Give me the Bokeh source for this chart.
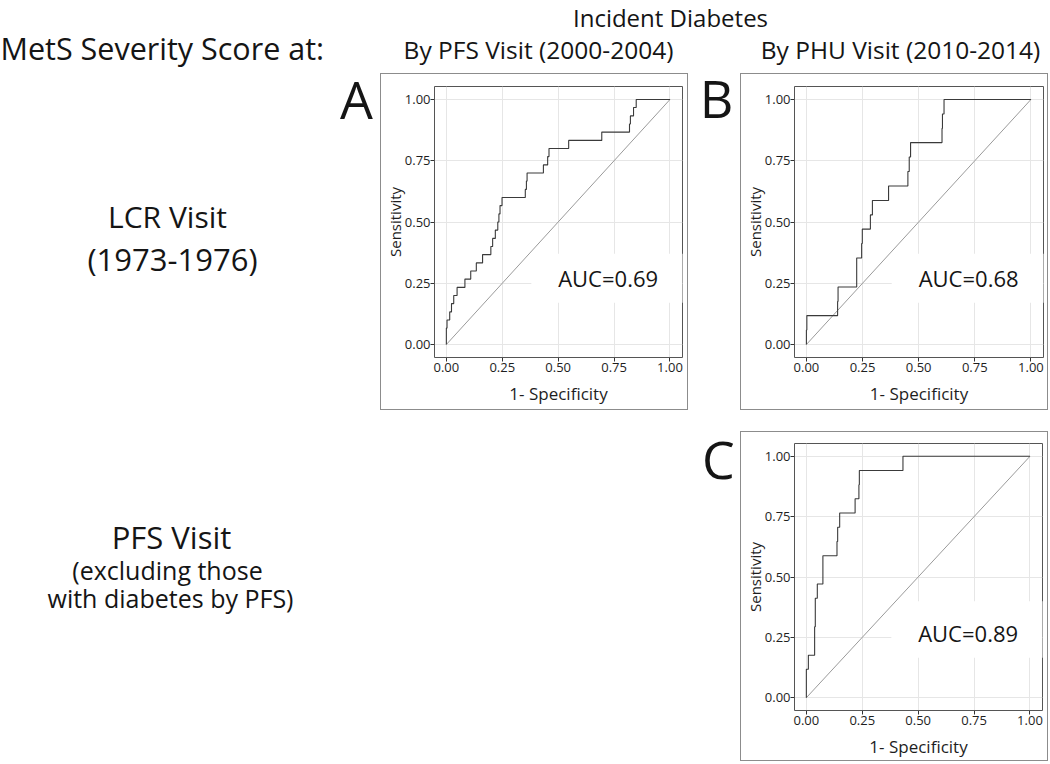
from bokeh.plotting import figure
from bokeh.layouts import row, column
from bokeh.models import Range1d, FixedTicker, Spacer
from bokeh.core.properties import value
from bokeh.embed import file_html
from bokeh.resources import INLINE

FONT = "Open Sans"

# ---------------- data ----------------
tick_values = [0.0, 0.25, 0.5, 0.75, 1.0]
tick_labels = ["0.00", "0.25", "0.50", "0.75", "1.00"]
diag = [0.0, 1.0]

a_fpr = [0.0, 0.0, 0.003, 0.015, 0.023, 0.033, 0.048, 0.083, 0.109, 0.134, 0.162,
         0.199, 0.207, 0.219, 0.230, 0.235, 0.240, 0.249, 0.353, 0.358, 0.361,
         0.434, 0.453, 0.459, 0.547, 0.695, 0.819, 0.823, 0.837, 0.849, 1.0]
a_tpr = [0.0, 0.067, 0.100, 0.133, 0.167, 0.200, 0.233, 0.267, 0.300, 0.333, 0.367,
         0.400, 0.433, 0.467, 0.500, 0.533, 0.567, 0.600, 0.633, 0.667, 0.700,
         0.733, 0.767, 0.800, 0.833, 0.867, 0.900, 0.933, 0.967, 1.0, 1.0]

b_fpr = [0.0, 0.0, 0.002, 0.139, 0.141, 0.224, 0.224, 0.246, 0.249, 0.285, 0.294,
         0.366, 0.452, 0.458, 0.464, 0.604, 0.606, 0.613, 1.0]
b_tpr = [0.0, 0.059, 0.118, 0.176, 0.235, 0.294, 0.353, 0.412, 0.471, 0.529, 0.588,
         0.647, 0.706, 0.765, 0.824, 0.882, 0.941, 1.0, 1.0]

c_fpr = [0.0, 0.0, 0.009, 0.037, 0.037, 0.040, 0.040, 0.049, 0.074, 0.074, 0.137,
         0.140, 0.149, 0.218, 0.235, 0.237, 0.432, 1.0]
c_tpr = [0.0, 0.118, 0.176, 0.235, 0.294, 0.353, 0.412, 0.471, 0.529, 0.588, 0.647,
         0.706, 0.765, 0.824, 0.882, 0.941, 1.0, 1.0]

auc_values = [0.69, 0.68, 0.89]

header_text = "Incident Diabetes"
column_titles = ["By PFS Visit (2000-2004)", "By PHU Visit (2010-2014)"]
row_heading = "MetS Severity Score at:"
row1_label = ["LCR Visit", "(1973-1976)"]
row2_label = ["PFS Visit", "(excluding those", "with diabetes by PFS)"]
panel_letters = ["A", "B", "C"]
x_title = "1- Specificity"
y_title = "Sensitivity"

TXT = "#151515"
BOX = "#8c8c8c"
X0, X1 = -0.053, 1.056
Y0, Y1 = -0.053, 1.053


def blank(w, h):
    p = figure(width=w, height=h, output_backend="svg", toolbar_location=None,
               x_range=Range1d(0, w), y_range=Range1d(h, 0), min_border=0)
    p.axis.visible = False
    p.grid.visible = False
    p.outline_line_color = None
    return p


def bar(w, h):
    return Spacer(width=w, height=h, styles={"background-color": BOX})


def put(p, x, y, txt, size, align="center", color=TXT):
    p.text(x=[x], y=[y], text=[txt], text_font=value(FONT), text_font_size=size,
           text_align=align, text_baseline="middle", text_color=color)


def roc(fpr, tpr, auc, w, h, ml, mr, mt, mb, mask):
    p = figure(width=w, height=h, output_backend="svg", toolbar_location=None,
               x_range=Range1d(X0, X1), y_range=Range1d(Y0, Y1),
               min_border_left=ml, min_border_right=mr,
               min_border_top=mt, min_border_bottom=mb,
               x_axis_label=x_title, y_axis_label=y_title)
    for ax in (p.xaxis[0], p.yaxis[0]):
        ax.ticker = FixedTicker(ticks=tick_values)
        ax.major_label_overrides = dict(zip(tick_values, tick_labels))
        ax.axis_line_color = None
        ax.major_tick_in = 0
        ax.major_tick_out = 4
        ax.major_tick_line_color = "#333333"
        ax.minor_tick_line_color = None
        ax.major_label_text_font = FONT
        ax.major_label_text_font_size = "13px"
        ax.major_label_text_color = "#1e1e1e"
        ax.axis_label_text_font = FONT
        ax.axis_label_text_font_style = "normal"
        ax.axis_label_text_color = "#1e1e1e"
    p.xaxis.axis_label_text_font_size = "17px"
    p.yaxis.axis_label_text_font_size = "15px"
    p.yaxis.major_label_standoff = 0
    p.yaxis.axis_label_standoff = -3
    p.xaxis.major_label_standoff = 1
    p.xaxis.axis_label_standoff = 7
    p.grid.grid_line_color = "#e6e6e6"
    p.grid.grid_line_width = 1
    p.outline_line_color = "#555555"
    p.outline_line_width = 1
    # label background that masks the grid behind the AUC text
    p.quad(left=[mask[0]], right=[mask[1]], bottom=[mask[2]], top=[mask[3]],
           fill_color="white", line_color=None)
    p.line(diag, diag, line_color="#9a9a9a", line_width=1)
    p.step(fpr, tpr, mode="after", line_color="#3a3a3a", line_width=1.1)
    p.text(x=[0.5], y=[0.27], text=["AUC=%.2f" % auc], text_font=value(FONT),
           text_font_size="22px", text_baseline="middle", text_align="left",
           text_color=TXT)
    return p


def panel(fpr, tpr, auc, W, H, ml, mr, mt, mb, mask):
    ih = H - 2
    p = roc(fpr, tpr, auc, W - 2, ih, ml, mr, mt, mb, mask)
    return column(bar(W, 1),
                  row(bar(1, ih), p, bar(1, ih)),
                  bar(W, 1))


# ---------------- layout ----------------
LEFT_W = 380
BOX_W = 308
GAP_W = 52

left = blank(LEFT_W, 761)
put(left, 0, 47, row_heading, "30.5px", align="left")
put(left, 356, 98, panel_letters[0], "52px")
put(left, 167, 216, row1_label[0], "30px")
put(left, 172, 258, row1_label[1], "31px")
put(left, 171, 536, row2_label[0], "31px")
put(left, 167, 569, row2_label[1], "25px")
put(left, 170, 597, row2_label[2], "25px")

header = blank(2 * BOX_W + GAP_W, 33)
put(header, 290, 16.5, header_text, "24px")

title_a = blank(BOX_W, 40)
put(title_a, 158, 16, column_titles[0], "24.5px")
title_b = blank(BOX_W, 40)
put(title_b, 160, 16, column_titles[1], "24.5px")

box_a = panel(a_fpr, a_tpr, auc_values[0], BOX_W, 337, 52, 5, 12, 52,
              [0.38, 1.06, 0.17, 0.37])
box_b = panel(b_fpr, b_tpr, auc_values[1], BOX_W, 337, 52, 4, 12, 52,
              [0.38, 1.06, 0.17, 0.37])
box_c = panel(c_fpr, c_tpr, auc_values[2], BOX_W, 330, 52, 5, 11, 49,
              [0.38, 1.06, 0.165, 0.40])

gap_b = blank(GAP_W, 377)
put(gap_b, 28, 64, panel_letters[1], "52px")
gap_c = blank(GAP_W, 351)
put(gap_c, 30, 48, panel_letters[2], "52px")

row_top = row(column(title_a, box_a), gap_b, column(title_b, box_b))
row_bottom = row(Spacer(width=BOX_W, height=351), gap_c,
                 column(Spacer(width=BOX_W, height=21), box_c))
right = column(header, row_top, row_bottom)
layout = row(left, right)

open("out.html", "w").write(file_html(layout, INLINE))
